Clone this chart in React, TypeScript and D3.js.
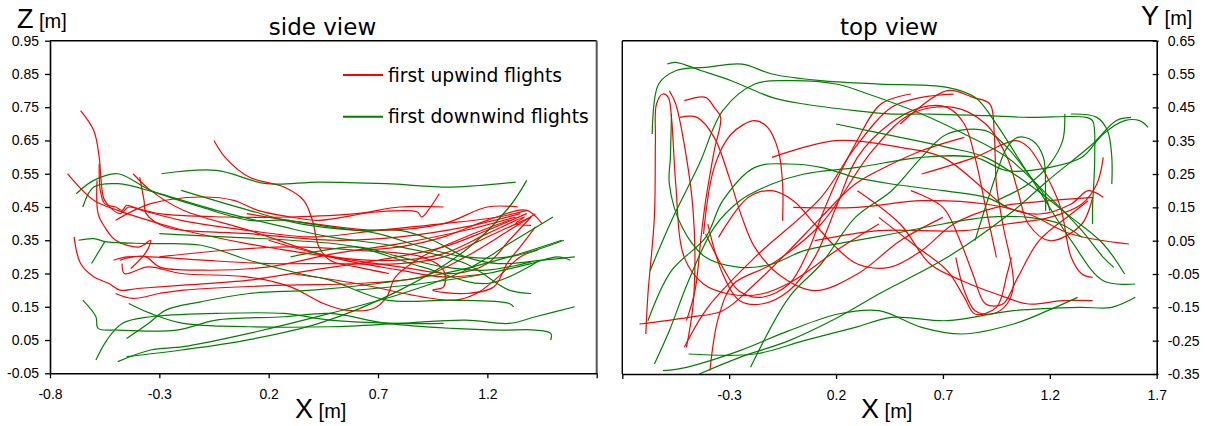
import React, { useRef, useEffect } from 'react';
import * as d3 from 'd3';

type Pt = [number, number];

// axis ticks
const xTicks = [-0.8, -0.3, 0.2, 0.7, 1.2, 1.7];
const zTicks = [-0.05, 0.05, 0.15, 0.25, 0.35, 0.45, 0.55, 0.65, 0.75, 0.85, 0.95];
const yTicks = [-0.35, -0.25, -0.15, -0.05, 0.05, 0.15, 0.25, 0.35, 0.45, 0.55, 0.65];

const legendLabels = ['first upwind flights', 'first downwind flights'];

// side view (X, Z) - first upwind flights
const sideUpwind: Pt[][] = [
  [[-0.66, 0.74], [-0.6, 0.68], [-0.575, 0.6], [-0.565, 0.52], [-0.55, 0.47], [-0.48, 0.43], [-0.44, 0.45], [-0.38, 0.44], [-0.2, 0.41], [0.1, 0.38], [0.4, 0.36], [0.7, 0.38], [1.0, 0.4], [1.25, 0.42], [1.38, 0.44]],
  [[-0.72, 0.55], [-0.6, 0.47], [-0.49, 0.44], [-0.3, 0.4], [-0.19, 0.38], [0.1, 0.34], [0.48, 0.3], [0.8, 0.27], [1.05, 0.25], [1.2, 0.28], [1.3, 0.35], [1.4, 0.42]],
  [[-0.69, 0.36], [-0.66, 0.28], [-0.6, 0.24], [-0.53, 0.22], [-0.48, 0.2], [-0.4, 0.205], [-0.19, 0.215], [0.11, 0.23], [0.4, 0.26], [0.7, 0.29], [1.0, 0.33], [1.2, 0.38], [1.38, 0.43]],
  [[-0.5, 0.19], [-0.42, 0.175], [-0.3, 0.19], [-0.19, 0.2], [0.27, 0.215], [0.6, 0.22], [0.9, 0.24], [1.1, 0.3], [1.3, 0.38], [1.42, 0.43]],
  [[-0.575, 0.58], [-0.57, 0.5], [-0.55, 0.46], [-0.5, 0.45], [-0.47, 0.44], [-0.45, 0.455], [-0.42, 0.45], [-0.3, 0.43], [0.0, 0.42], [0.3, 0.42], [0.6, 0.43], [0.8, 0.45], [1.0, 0.45]],
  [[-0.585, 0.53], [-0.58, 0.43], [-0.55, 0.39], [-0.5, 0.35], [-0.39, 0.33], [-0.34, 0.35], [-0.36, 0.315], [-0.43, 0.265]],
  [[-0.42, 0.55], [-0.34, 0.5], [-0.19, 0.44], [0.11, 0.38], [0.48, 0.3], [0.8, 0.26], [1.0, 0.24], [1.2, 0.25]],
  [[-0.39, 0.54], [-0.37, 0.47], [-0.36, 0.43], [-0.27, 0.39], [0.11, 0.37], [0.5, 0.35], [0.8, 0.36], [1.1, 0.39], [1.35, 0.43]],
  [[-0.05, 0.65], [0.0, 0.6], [0.11, 0.54], [0.27, 0.51], [0.36, 0.47], [0.4, 0.41], [0.43, 0.33], [0.48, 0.29], [0.6, 0.27], [0.75, 0.25]],
  [[-0.5, 0.41], [-0.34, 0.46], [-0.11, 0.48], [0.04, 0.47], [0.15, 0.44], [0.3, 0.42], [0.43, 0.41], [0.69, 0.435], [0.88, 0.435], [0.9, 0.42], [0.94, 0.45], [0.98, 0.49]],
  [[-0.51, 0.29], [-0.45, 0.3], [-0.34, 0.3], [-0.1, 0.29], [0.2, 0.28], [0.48, 0.28], [0.8, 0.28], [1.0, 0.3], [1.2, 0.36], [1.4, 0.42]],
  [[-0.47, 0.28], [-0.46, 0.25], [-0.35, 0.27], [-0.2, 0.25], [0.1, 0.24], [0.3, 0.21], [0.45, 0.16], [0.55, 0.14], [0.68, 0.145], [0.74, 0.18], [0.78, 0.24], [0.9, 0.3], [1.1, 0.36], [1.3, 0.41]],
  [[-0.3, 0.3], [0.0, 0.32], [0.3, 0.33], [0.6, 0.32], [0.9, 0.3], [1.0, 0.26], [1.0, 0.21], [0.95, 0.2], [1.1, 0.19], [1.23, 0.21], [1.29, 0.28], [1.35, 0.33], [1.42, 0.39]],
  [[0.1, 0.43], [0.4, 0.4], [0.7, 0.38], [1.0, 0.4], [1.2, 0.45], [1.34, 0.45]],
  [[0.6, 0.32], [0.8, 0.33], [1.0, 0.36], [1.2, 0.41], [1.38, 0.44], [1.45, 0.4]],
  [[0.2, 0.35], [0.5, 0.3], [0.8, 0.29], [1.0, 0.31], [1.2, 0.37], [1.37, 0.42], [1.33, 0.4], [1.4, 0.395]],
  [[0.3, 0.25], [0.6, 0.22], [0.9, 0.18], [1.05, 0.17], [1.15, 0.19], [1.25, 0.24], [1.35, 0.3], [1.43, 0.32]],
  [[-0.48, 0.29], [-0.42, 0.3], [-0.36, 0.3], [-0.3, 0.27], [-0.1, 0.26], [0.2, 0.27], [0.5, 0.31], [0.8, 0.34], [1.1, 0.38], [1.33, 0.42]],
];

// side view (X, Z) - first downwind flights
const sideDownwind: Pt[][] = [
  [[-0.29, 0.55], [-0.04, 0.56], [0.19, 0.52], [0.43, 0.525], [0.74, 0.52], [1.04, 0.51], [1.33, 0.525]],
  [[-0.68, 0.49], [-0.6, 0.53], [-0.49, 0.55], [-0.34, 0.5], [-0.11, 0.45], [0.11, 0.41], [0.27, 0.41], [0.48, 0.39], [0.7, 0.37], [0.9, 0.33], [1.1, 0.3], [1.3, 0.3], [1.55, 0.35]],
  [[-0.65, 0.45], [-0.6, 0.51], [-0.49, 0.52], [-0.3, 0.49], [-0.04, 0.44], [0.27, 0.39], [0.48, 0.36], [0.8, 0.33], [1.1, 0.28], [1.3, 0.2], [1.4, 0.19]],
  [[-0.2, 0.5], [0.11, 0.44], [0.34, 0.4], [0.6, 0.38], [0.8, 0.38], [0.95, 0.35], [1.1, 0.3], [1.25, 0.28], [1.45, 0.29], [1.6, 0.3]],
  [[-0.67, 0.35], [-0.6, 0.355], [-0.54, 0.345], [-0.34, 0.34], [-0.11, 0.335], [0.11, 0.29], [0.34, 0.25], [0.48, 0.23], [0.74, 0.17], [1.04, 0.17], [1.3, 0.16], [1.32, 0.15]],
  [[-0.61, 0.28], [-0.55, 0.345]],
  [[-0.65, 0.17], [-0.59, 0.12], [-0.58, 0.085], [-0.49, 0.08], [-0.22, 0.08], [-0.04, 0.11], [0.27, 0.12], [0.48, 0.13], [0.74, 0.1], [1.04, 0.085], [1.27, 0.08], [1.42, 0.08], [1.49, 0.07], [1.49, 0.05]],
  [[-0.59, -0.01], [-0.54, 0.05], [-0.47, 0.1], [-0.34, 0.12], [-0.04, 0.13], [0.27, 0.13], [0.48, 0.11], [0.8, 0.1], [1.0, 0.1]],
  [[-0.45, 0.055], [-0.35, 0.1], [-0.27, 0.14], [-0.11, 0.165], [0.11, 0.19], [0.4, 0.2], [0.7, 0.22], [1.0, 0.25], [1.3, 0.3], [1.54, 0.35]],
  [[-0.49, -0.015], [-0.34, 0.02], [-0.19, 0.03], [0.11, 0.07], [0.48, 0.13], [0.81, 0.19], [1.1, 0.26], [1.3, 0.34], [1.5, 0.42]],
  [[-0.44, 0.16], [-0.34, 0.13], [-0.19, 0.1], [0.11, 0.09], [0.48, 0.09], [0.8, 0.1], [1.1, 0.11], [1.3, 0.1], [1.42, 0.12], [1.6, 0.15]],
  [[-0.45, 0.0], [-0.2, 0.02], [0.1, 0.05], [0.43, 0.1], [0.8, 0.2], [1.1, 0.32], [1.3, 0.45], [1.38, 0.53]],
  [[0.3, 0.3], [0.6, 0.33], [0.8, 0.3], [1.0, 0.27], [1.2, 0.26], [1.4, 0.285]],
  [[0.6, 0.2], [0.9, 0.22], [1.2, 0.25], [1.4, 0.28], [1.52, 0.3], [1.58, 0.29]],
  [[-0.3, 0.37], [0.0, 0.36], [0.3, 0.35], [0.6, 0.33], [0.9, 0.27], [1.2, 0.22], [1.44, 0.29]],
];

// top view (X, Y) - first upwind flights
const topUpwind: Pt[][] = [
  [[-0.69, -0.23], [-0.68, -0.11], [-0.65, 0.12], [-0.645, 0.35], [-0.64, 0.46], [-0.61, 0.49], [-0.585, 0.48], [-0.57, 0.42], [-0.55, 0.22], [-0.51, 0.0], [-0.42, -0.08], [-0.3, -0.11], [-0.15, -0.11], [0.0, -0.07], [0.2, 0.02], [0.4, 0.1]],
  [[-0.58, 0.5], [-0.55, 0.46], [-0.5, 0.3], [-0.47, 0.15], [-0.46, 0.0], [-0.47, -0.15], [-0.5, -0.27]],
  [[-0.51, 0.47], [-0.41, 0.48], [-0.37, 0.45], [-0.34, 0.42], [-0.37, 0.32], [-0.41, 0.17], [-0.43, 0.07], [-0.46, -0.1], [-0.5, -0.19]],
  [[-0.53, 0.42], [-0.45, 0.42], [-0.37, 0.36], [-0.3, 0.24], [-0.24, 0.12], [-0.18, 0.03], [-0.05, -0.06], [0.1, -0.1], [0.3, -0.05], [0.5, 0.05], [0.7, 0.12]],
  [[-0.42, 0.07], [-0.37, 0.27], [-0.29, 0.37], [-0.18, 0.41], [-0.12, 0.39], [-0.07, 0.32], [-0.05, 0.22], [-0.05, 0.11]],
  [[-0.72, -0.2], [-0.49, -0.18], [-0.33, -0.16], [-0.18, -0.08], [-0.02, 0.02], [0.13, 0.12], [0.29, 0.22], [0.46, 0.28], [0.6, 0.32], [0.8, 0.36]],
  [[-0.51, -0.27], [-0.4, -0.15], [-0.18, 0.0], [0.13, 0.18], [0.29, 0.33], [0.46, 0.45], [0.6, 0.48], [0.75, 0.49]],
  [[-0.39, -0.34], [-0.35, -0.18], [-0.28, -0.08], [-0.1, -0.02], [0.13, 0.1], [0.37, 0.32], [0.55, 0.43], [0.75, 0.45], [0.9, 0.4], [1.0, 0.3], [1.05, 0.2], [1.1, 0.1], [1.2, 0.05], [1.35, 0.1], [1.4, 0.18]],
  [[-0.35, 0.06], [-0.21, 0.18], [-0.1, 0.2], [0.0, 0.17], [0.1, 0.1], [0.2, 0.03], [0.3, -0.02], [0.45, -0.03], [0.6, 0.02], [0.75, 0.1], [0.95, 0.15], [1.2, 0.17], [1.4, 0.18]],
  [[-0.4, 0.1], [-0.33, -0.05], [-0.25, -0.13], [-0.15, -0.14], [-0.02, -0.1], [0.1, 0.0], [0.2, 0.15], [0.3, 0.3], [0.45, 0.4], [0.6, 0.45], [0.72, 0.45], [0.8, 0.4], [0.85, 0.3], [0.9, 0.15], [0.95, 0.0]],
  [[-0.41, 0.07], [-0.33, -0.03], [-0.255, -0.1], [-0.15, -0.12], [-0.02, -0.08], [0.07, 0.02], [0.13, 0.12], [0.21, 0.24], [0.29, 0.34], [0.41, 0.46], [0.55, 0.49]],
  [[0.5, 0.4], [0.72, 0.5], [0.84, 0.48], [0.92, 0.46], [0.94, 0.37], [0.95, 0.22], [0.98, 0.1], [1.03, -0.08], [1.0, -0.14], [0.93, -0.17], [0.85, -0.16], [0.8, -0.1], [0.76, 0.0]],
  [[0.3, 0.2], [0.5, 0.1], [0.64, -0.02], [0.79, -0.07], [0.95, -0.11], [1.1, -0.14], [1.26, -0.13], [1.4, -0.13]],
  [[0.4, 0.12], [0.56, 0.04], [0.72, -0.04], [0.8, -0.12], [0.85, -0.17], [0.95, -0.15], [1.0, -0.05], [1.02, 0.0]],
  [[0.1, 0.05], [0.4, 0.08], [0.6, 0.08], [0.8, 0.08], [1.0, 0.1], [1.2, 0.12], [1.35, 0.16], [1.42, 0.22], [1.45, 0.3]],
  [[0.0, 0.15], [0.3, 0.15], [0.6, 0.17], [0.9, 0.16], [1.1, 0.13], [1.3, 0.07], [1.57, 0.04]],
  [[0.6, 0.25], [0.85, 0.3], [1.04, 0.35], [1.1, 0.33], [1.18, 0.25], [1.25, 0.15], [1.3, 0.0], [1.35, -0.05], [1.4, -0.06]],
  [[-0.1, 0.3], [0.2, 0.35], [0.5, 0.33], [0.7, 0.3], [0.9, 0.2], [1.0, 0.15], [1.15, 0.13], [1.3, 0.16], [1.38, 0.2], [1.45, 0.18]],
  [[0.55, 0.2], [0.7, 0.15], [0.78, 0.05], [0.84, -0.05], [0.9, -0.14], [0.98, -0.14], [1.05, -0.06], [1.15, 0.05], [1.3, 0.13], [1.38, 0.17]],
];

// top view (X, Y) - first downwind flights
const topDownwind: Pt[][] = [
  [[-0.59, 0.58], [-0.55, 0.585], [-0.43, 0.56], [-0.29, 0.53], [-0.1, 0.48], [0.05, 0.46], [0.29, 0.44], [0.46, 0.43], [0.64, 0.43], [0.9, 0.425], [1.1, 0.42], [1.37, 0.42], [1.4, 0.41], [1.41, 0.3], [1.4, 0.15], [1.4, 0.1]],
  [[-0.66, 0.37], [-0.63, 0.52], [-0.55, 0.56], [-0.41, 0.57], [-0.24, 0.58], [-0.1, 0.55], [0.13, 0.53], [0.4, 0.52], [0.72, 0.51], [0.85, 0.48], [0.95, 0.4], [1.05, 0.3], [1.15, 0.2], [1.3, 0.05], [1.45, -0.07], [1.6, -0.08]],
  [[-0.67, -0.04], [-0.57, 0.11], [-0.44, 0.28], [-0.33, 0.44], [-0.18, 0.52], [-0.02, 0.53], [0.2, 0.52], [0.35, 0.49], [0.6, 0.43], [0.8, 0.37], [1.0, 0.3], [1.2, 0.18], [1.35, 0.08], [1.45, 0.0], [1.5, -0.03]],
  [[-0.57, 0.43], [-0.575, 0.3], [-0.58, 0.22], [-0.52, 0.09], [-0.41, 0.0], [-0.25, -0.03], [-0.1, -0.02], [0.05, 0.02], [0.29, 0.05], [0.46, 0.07], [0.7, 0.1], [0.9, 0.12], [1.1, 0.12], [1.25, 0.1], [1.35, 0.06]],
  [[-0.68, -0.19], [-0.57, -0.04], [-0.41, 0.06], [-0.33, 0.17], [-0.18, 0.27], [-0.02, 0.28], [0.13, 0.27], [0.29, 0.24], [0.46, 0.22], [0.7, 0.2], [0.9, 0.18], [1.0, 0.15]],
  [[-0.65, -0.32], [-0.58, -0.22], [-0.49, -0.07], [-0.37, 0.09], [-0.25, 0.17], [-0.1, 0.22], [0.05, 0.25], [0.3, 0.27], [0.6, 0.3], [0.85, 0.3], [1.0, 0.26], [1.2, 0.27], [1.35, 0.3], [1.45, 0.37], [1.55, 0.41], [1.62, 0.41], [1.66, 0.39]],
  [[-0.49, -0.29], [-0.18, -0.29], [0.05, -0.25], [0.29, -0.21], [0.46, -0.18], [0.72, -0.19], [1.03, -0.16], [1.34, -0.15], [1.49, -0.15], [1.6, -0.12]],
  [[-0.61, -0.34], [-0.5, -0.33], [-0.25, -0.28], [-0.02, -0.22], [0.21, -0.17], [0.4, -0.16], [0.6, -0.21], [0.79, -0.23], [1.03, -0.2], [1.19, -0.16], [1.33, -0.12]],
  [[-0.44, -0.35], [-0.25, -0.3], [-0.02, -0.25], [0.21, -0.18], [0.4, -0.11], [0.72, 0.0], [1.03, 0.14], [1.19, 0.23], [1.4, 0.34], [1.51, 0.41], [1.58, 0.42]],
  [[-0.2, -0.33], [-0.02, -0.12], [0.13, -0.02], [0.29, 0.12], [0.46, 0.2], [0.6, 0.3], [0.72, 0.37], [0.9, 0.38], [1.0, 0.33], [1.1, 0.25], [1.18, 0.18], [1.2, 0.14]],
  [[0.85, 0.05], [0.95, 0.25], [1.0, 0.33], [1.05, 0.36], [1.12, 0.35], [1.17, 0.3], [1.18, 0.2], [1.18, 0.14]],
  [[1.27, 0.43], [1.26, 0.35], [1.2, 0.28], [1.1, 0.22], [0.95, 0.17]],
  [[1.49, 0.22], [1.49, 0.3], [1.47, 0.38], [1.42, 0.42], [1.3, 0.43]],
  [[0.2, 0.4], [0.5, 0.36], [0.72, 0.33], [0.9, 0.3], [1.1, 0.22], [1.3, 0.12], [1.45, 0.04], [1.55, -0.05]],
];

const RED = '#ff0000';
const GREEN = '#008000';
const TICK_FONT = '"Liberation Sans", Arial, sans-serif';
const TITLE_FONT = '"DejaVu Sans", Verdana, sans-serif';

const fmt1 = (d: number) => d.toFixed(1);
const fmt2 = (d: number) => d.toFixed(2);

const App = () => {
  const svgRef = useRef<SVGSVGElement>(null);

  useEffect(() => {
    const svg = d3.select(svgRef.current);
    svg.selectAll('*').remove();

    const line = (x: d3.ScaleLinear<number, number>, y: d3.ScaleLinear<number, number>) =>
      d3.line<Pt>().x(d => x(d[0])).y(d => y(d[1])).curve(d3.curveCatmullRom.alpha(0.5));

    const drawPaths = (g: any, data: Pt[][], gen: any, color: string) => {
      g.selectAll(null)
        .data(data)
        .enter()
        .append('path')
        .attr('d', gen)
        .attr('fill', 'none')
        .attr('stroke', color)
        .attr('stroke-width', 1.2);
    };

    const styleAxis = (ax: any) => {
      ax.select('.domain').attr('stroke', '#000').attr('stroke-width', 1.6);
      ax.selectAll('.tick line').attr('stroke', '#000').attr('stroke-width', 1.3);
      ax.selectAll('text').attr('font-family', TICK_FONT).attr('font-size', 14).attr('fill', '#000');
    };

    // ---------- side view ----------
    const xs = d3.scaleLinear().domain([-0.8, 1.7]).range([50, 596.7]);
    const zs = d3.scaleLinear().domain([-0.05, 0.95]).range([373.3, 40.7]);

    // frame (top, right)
    svg.append('line').attr('x1', 50).attr('x2', 596.7).attr('y1', 40.7).attr('y2', 40.7)
      .attr('stroke', '#000').attr('stroke-width', 1.4);
    svg.append('line').attr('x1', 596.7).attr('x2', 596.7).attr('y1', 40.7).attr('y2', 373.3)
      .attr('stroke', '#555').attr('stroke-width', 2);

    const side = svg.append('g');
    drawPaths(side, sideUpwind, line(xs, zs), RED);
    drawPaths(side, sideDownwind, line(xs, zs), GREEN);

    const axL = svg.append('g').attr('transform', 'translate(50,0)')
      .call(d3.axisLeft(zs).tickValues(zTicks).tickFormat(fmt2 as any).tickSizeInner(5).tickSizeOuter(0).tickPadding(6));
    styleAxis(axL);
    const axB1 = svg.append('g').attr('transform', 'translate(0,373.3)')
      .call(d3.axisBottom(xs).tickValues(xTicks).tickFormat(((d: number) => (d > 1.5 ? '' : fmt1(d))) as any)
        .tickSizeInner(5).tickSizeOuter(0).tickPadding(11));
    styleAxis(axB1);

    // ---------- top view ----------
    const xt = d3.scaleLinear().domain([-0.8, 1.7]).range([622.3, 1156.7]);
    const yt = d3.scaleLinear().domain([-0.35, 0.65]).range([374, 40.7]);

    svg.append('line').attr('x1', 622.3).attr('x2', 1156.7).attr('y1', 40.7).attr('y2', 40.7)
      .attr('stroke', '#000').attr('stroke-width', 1.4);
    svg.append('line').attr('x1', 622.3).attr('x2', 622.3).attr('y1', 40.7).attr('y2', 374)
      .attr('stroke', '#000').attr('stroke-width', 1.4);

    const top = svg.append('g');
    drawPaths(top, topUpwind, line(xt, yt), RED);
    drawPaths(top, topDownwind, line(xt, yt), GREEN);

    const axR = svg.append('g').attr('transform', 'translate(1156.7,0)')
      .call(d3.axisRight(yt).tickValues(yTicks).tickFormat(fmt2 as any).tickSizeInner(2).tickSizeOuter(0).tickPadding(9));
    axR.selectAll('.tick line').attr('x1', -4);
    styleAxis(axR);
    const axB2 = svg.append('g').attr('transform', 'translate(0,374)')
      .call(d3.axisBottom(xt).tickValues(xTicks).tickFormat(((d: number) => (d < -0.5 ? '' : fmt1(d))) as any)
        .tickSizeInner(5).tickSizeOuter(0).tickPadding(11));
    styleAxis(axB2);

    // ---------- titles and axis names ----------
    const label = (x: number, y: number, parts: [string, number][]) => {
      const t = svg.append('text').attr('x', x).attr('y', y)
        .attr('font-family', TICK_FONT).attr('fill', '#000');
      parts.forEach(([s, size]) => t.append('tspan').attr('font-size', size).text(s));
    };
    label(17, 28, [['Z', 27], [' [m]', 20]]);
    label(295, 418, [['X', 27], [' [m]', 20]]);
    label(861, 418, [['X', 27], [' [m]', 20]]);
    label(1141, 25, [['Y', 27], [' [m]', 20]]);

    svg.append('text').attr('x', 322.5).attr('y', 35).attr('text-anchor', 'middle')
      .attr('font-family', TITLE_FONT).attr('font-size', 23).text('side view');
    svg.append('text').attr('x', 889).attr('y', 35).attr('text-anchor', 'middle')
      .attr('font-family', TITLE_FONT).attr('font-size', 23).text('top view');

    // ---------- legend ----------
    const legend = svg.append('g');
    [RED, GREEN].forEach((c, i) => {
      const ly = i === 0 ? 75 : 116.7;
      legend.append('line').attr('x1', 343).attr('x2', 383).attr('y1', ly).attr('y2', ly)
        .attr('stroke', c).attr('stroke-width', 2);
      legend.append('text').attr('x', 388).attr('y', ly + 6.5)
        .attr('font-family', TITLE_FONT).attr('font-size', 18.7).attr('fill', '#000')
        .text(legendLabels[i]);
    });
  }, []);

  return (
    <svg ref={svgRef} width={1205} height={426}
      style={{ position: 'absolute', left: 0, top: 0, background: '#fff' }} />
  );
};

export default App;
